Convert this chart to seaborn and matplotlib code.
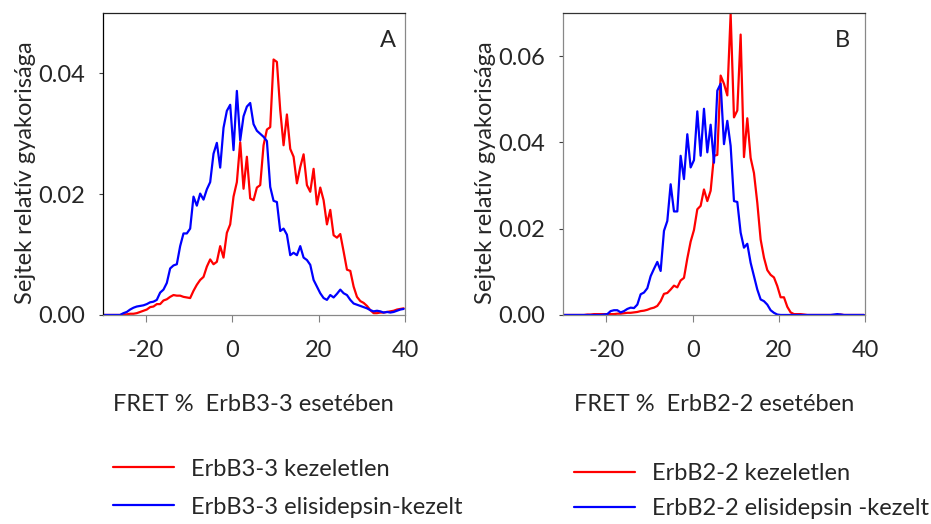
import numpy as np
import pandas as pd
import matplotlib
matplotlib.use("Agg")
import matplotlib.pyplot as plt
import seaborn as sns

# FRET histogram bin centres (same bins for both panels)
fret_start = -29.83
fret_step = 0.7725
n_bins = 91
fret = np.round(fret_start + fret_step * np.arange(n_bins), 3)

# Panel A: ErbB3-3
a_red = [0, 0, 0, 0, 0, 0,
         0.0001, 0.0001, 0.0002, 0.0002, 0.0003, 0.0005, 0.0007, 0.0009, 0.0013, 0.0014,
         0.0018, 0.0018, 0.0024, 0.0026, 0.0030, 0.0033, 0.0032, 0.0032, 0.0030, 0.0029,
         0.0028, 0.0040, 0.0050, 0.0058, 0.0063, 0.0080, 0.0092, 0.0084, 0.0088, 0.0114,
         0.0095, 0.0136, 0.0150, 0.0196, 0.0220, 0.0286, 0.0209, 0.0262, 0.0193, 0.0190,
         0.0211, 0.0215, 0.0281, 0.0307, 0.0311, 0.0423, 0.0419, 0.0339, 0.0281, 0.0332,
         0.0275, 0.0262, 0.0218, 0.0245, 0.0266, 0.0215, 0.0204, 0.0242, 0.0183, 0.0211,
         0.0190, 0.0150, 0.0174, 0.0132, 0.0128, 0.0134, 0.0105, 0.0075, 0.0073, 0.0047,
         0.0030, 0.0023, 0.0020, 0.0015, 0.0008, 0.0003, 0.0003, 0.0004, 0.0004, 0.0005,
         0.0006, 0.0007, 0.0009, 0.0010, 0.0011]
a_blue = [0, 0, 0, 0, 0, 0,
          0.0003, 0.0005, 0.0009, 0.0012, 0.0014, 0.0015, 0.0016, 0.0018, 0.0021, 0.0022,
          0.0025, 0.0037, 0.0042, 0.0053, 0.0077, 0.0082, 0.0084, 0.0114, 0.0135, 0.0135,
          0.0143, 0.0196, 0.0181, 0.0201, 0.0191, 0.0208, 0.0220, 0.0267, 0.0285, 0.0244,
          0.0310, 0.0338, 0.0348, 0.0273, 0.0371, 0.0289, 0.0329, 0.0345, 0.0351, 0.0316,
          0.0305, 0.0300, 0.0295, 0.0288, 0.0212, 0.0189, 0.0187, 0.0139, 0.0143, 0.0133,
          0.0099, 0.0103, 0.0099, 0.0114, 0.0095, 0.0091, 0.0083, 0.0058, 0.0047, 0.0036,
          0.0028, 0.0025, 0.0033, 0.0029, 0.0035, 0.0042, 0.0036, 0.0033, 0.0025, 0.0019,
          0.0017, 0.0015, 0.0013, 0.0011, 0.0008, 0.0006, 0.0007, 0.0006, 0.0004, 0.0005,
          0.0004, 0.0005, 0.0007, 0.0009, 0.0010]

# Panel B: ErbB2-2
b_red = [0, 0, 0, 0, 0, 0, 0,
         0.0001, 0.0001, 0.0002, 0.0002, 0.0002, 0.0002, 0.0002, 0.0002, 0.0002, 0.0003,
         0.0003, 0.0004, 0.0005, 0.0005, 0.0006, 0.0007, 0.0009, 0.0010, 0.0012, 0.0015,
         0.0017, 0.0021, 0.0032, 0.0049, 0.0051, 0.0059, 0.0068, 0.0064, 0.0080, 0.0086,
         0.0131, 0.0170, 0.0197, 0.0245, 0.0253, 0.0291, 0.0264, 0.0288, 0.0369, 0.0371,
         0.0555, 0.0536, 0.0509, 0.0698, 0.0458, 0.0474, 0.0650, 0.0366, 0.0456, 0.0364,
         0.0329, 0.0260, 0.0175, 0.0133, 0.0104, 0.0093, 0.0087, 0.0067, 0.0041, 0.0041,
         0.0019, 0.0006, 0.0002, 0.0002, 0.0002, 0.0001, 0, 0, 0, 0,
         0, 0, 0, 0, 0, 0, 0.0001, 0, 0, 0,
         0, 0, 0, 0]
b_blue = [0, 0, 0, 0, 0, 0, 0, 0, 0, 0, 0, 0, 0.0001,
          0.0002, 0.0009, 0.0011, 0.0011, 0.0006, 0.0009, 0.0014, 0.0017, 0.0016, 0.0024,
          0.0048, 0.0052, 0.0062, 0.0090, 0.0107, 0.0123, 0.0102, 0.0195, 0.0218, 0.0303,
          0.0240, 0.0240, 0.0369, 0.0315, 0.0419, 0.0342, 0.0359, 0.0472, 0.0369, 0.0478,
          0.0377, 0.0441, 0.0353, 0.0520, 0.0536, 0.0396, 0.0450, 0.0392, 0.0264, 0.0262,
          0.0191, 0.0156, 0.0165, 0.0121, 0.0090, 0.0059, 0.0036, 0.0032, 0.0024, 0.0011,
          0.0005, 0.0001, 0, 0, 0, 0, 0, 0, 0, 0,
          0, 0, 0, 0, 0, 0, 0, 0, 0.0001, 0.0002,
          0.0001, 0, 0, 0, 0, 0, 0, 0]

a_labels = ["ErbB3-3 kezeletlen", "ErbB3-3 elisidepsin-kezelt"]
b_labels = ["ErbB2-2 kezeletlen", "ErbB2-2 elisidepsin -kezelt"]
a_xlabel = "FRET %  ErbB3-3 esetében"
b_xlabel = "FRET %  ErbB2-2 esetében"
ylabel = "Sejtek relatív gyakorisága"
x_ticks = [-20, 0, 20, 40]
a_yticks = [0.00, 0.02, 0.04]
b_yticks = [0.00, 0.02, 0.04, 0.06]

sns.set_theme(style="white")
plt.rcParams["font.family"] = ["Lato", "DejaVu Sans"]
plt.rcParams["axes.unicode_minus"] = False

fig = plt.figure(figsize=(9.31, 5.24), dpi=100)
axA = fig.add_axes([0.1103, 0.3989, 0.3247, 0.5763])
axB = fig.add_axes([0.6050, 0.3989, 0.3244, 0.5763])

FS = 17


def panel(ax, red, blue, labels, xlabel, yticks, ymax, letter, letter_x,
          leg_xy, leg_spacing, spine_cols):
    df = pd.DataFrame({
        "FRET": np.concatenate([fret, fret]),
        "freq": np.concatenate([red, blue]),
        "series": [labels[0]] * n_bins + [labels[1]] * n_bins,
    })
    sns.lineplot(data=df, x="FRET", y="freq", hue="series", hue_order=labels,
                 palette=["#FF0000", "#0000FF"], linewidth=1.6, ax=ax,
                 estimator=None, sort=False)
    ax.set_xlim(-30, 40)
    ax.set_ylim(0, ymax)
    ax.set_xticks(x_ticks)
    ax.set_xticklabels([str(t) for t in x_ticks], fontsize=FS)
    ax.set_yticks(yticks)
    ax.set_yticklabels([f"{t:.2f}" for t in yticks], fontsize=FS)
    ax.tick_params(axis="x", direction="out", length=5, width=0.8,
                   color="#808080", pad=13, bottom=True)
    ax.tick_params(axis="y", direction="out", length=3, width=0.8,
                   color="#404040", pad=10, left=True)
    ax.set_xlabel(xlabel, fontsize=FS)
    ax.xaxis.set_label_coords(0.5, -0.262)
    ax.set_ylabel(ylabel, fontsize=FS)
    ax.yaxis.set_label_coords(-0.222, 0.47)
    for side, col in spine_cols.items():
        ax.spines[side].set_visible(True)
        ax.spines[side].set_color(col)
        ax.spines[side].set_linewidth(0.9)
    ax.text(letter_x, 0.91, letter, transform=ax.transAxes, fontsize=FS,
            ha="center", va="center")
    sns.move_legend(ax, "upper left", bbox_to_anchor=leg_xy,
                    bbox_transform=fig.transFigure, frameon=False, title=None,
                    fontsize=FS, handlelength=2.6, handletextpad=0.7,
                    labelspacing=leg_spacing, borderpad=0, borderaxespad=0)


panel(axA, a_red, a_blue, a_labels, a_xlabel, a_yticks, 0.05, "A", 0.944,
      (0.1214, 0.125), 0.72,
      {"left": "#000000", "top": "#222222", "right": "#888888", "bottom": "#888888"})
panel(axB, b_red, b_blue, b_labels, b_xlabel, b_yticks, 0.07, "B", 0.926,
      (0.6165, 0.116), 0.6,
      {"left": "#888888", "top": "#333333", "right": "#888888", "bottom": "#888888"})

fig.savefig("out.png", dpi=100)
